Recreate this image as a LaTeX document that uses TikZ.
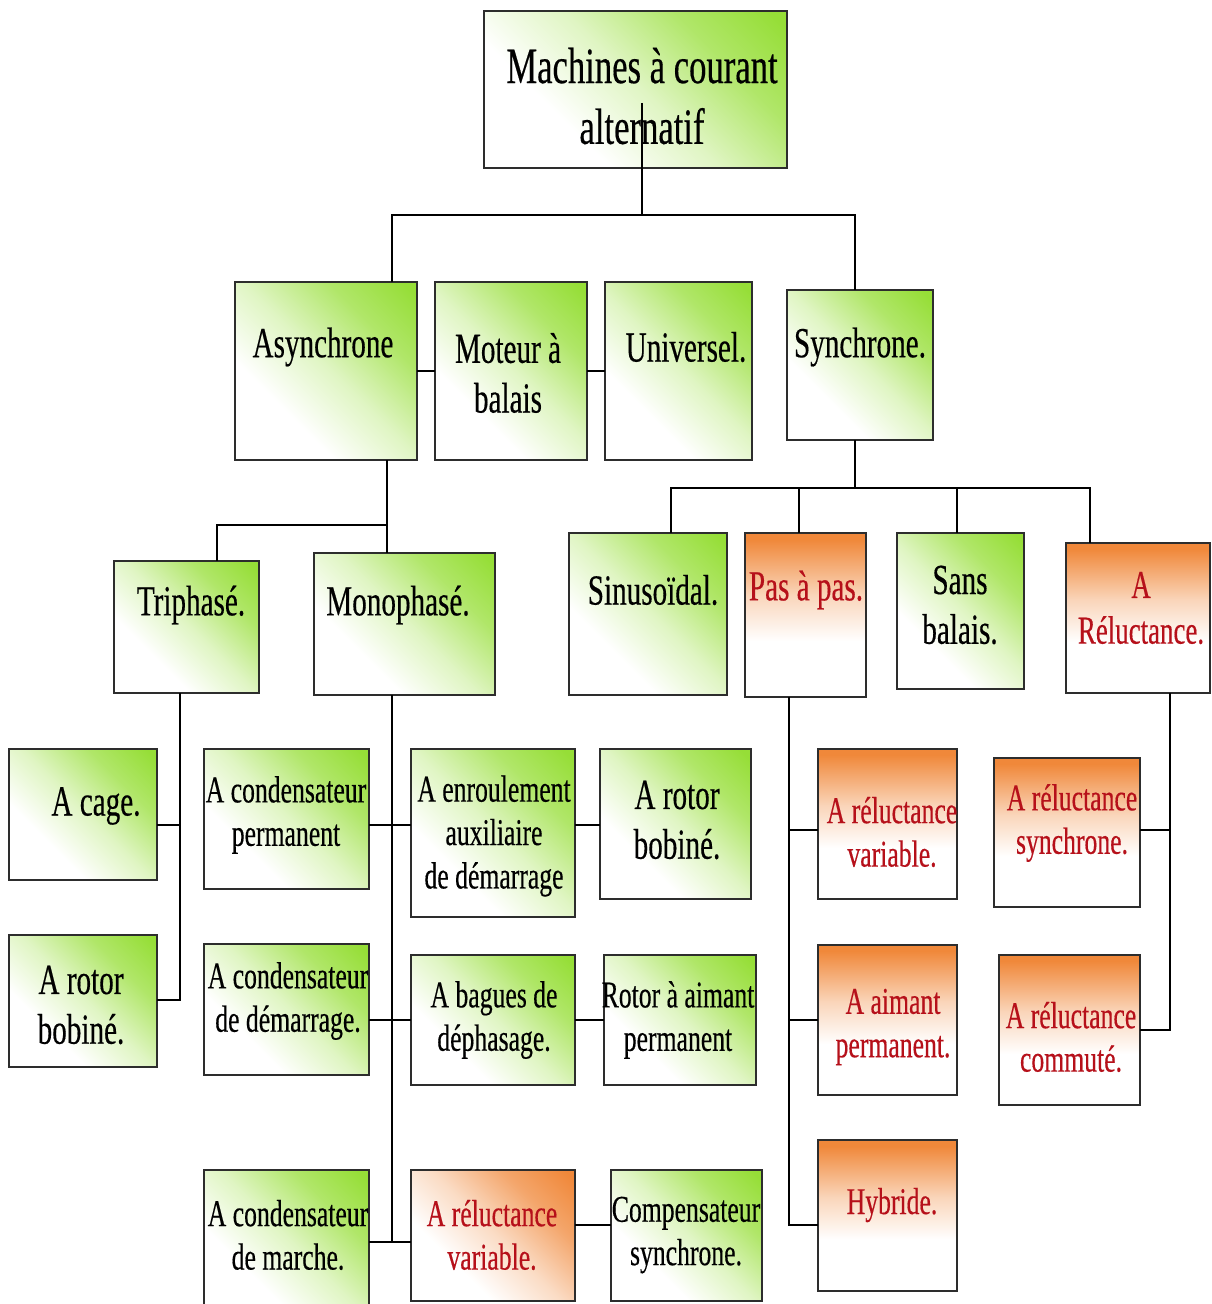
\documentclass[tikz,border=0pt]{standalone}
\usepackage{fontspec}
\setmainfont{Liberation Serif}[FakeStretch=0.68, FakeBold=0.35]
\usetikzlibrary{calc}

\definecolor{leaf}{RGB}{150,222,55}
\definecolor{ember}{RGB}{240,136,58}
\definecolor{redtxt}{RGB}{182,16,26}
\definecolor{edge}{RGB}{45,45,45}

% fills: green fades diagonally to white, orange fades downwards to white
\pgfdeclareverticalshading{leafdiag}{100bp}{color(0bp)=(white); color(34bp)=(white); color(51bp)=(leaf!30!white); color(68bp)=(leaf!75!white); color(83bp)=(leaf); color(100bp)=(leaf)}
\pgfdeclareverticalshading{emberdiag}{100bp}{color(0bp)=(white); color(34bp)=(white); color(51bp)=(ember!30!white); color(68bp)=(ember!75!white); color(83bp)=(ember); color(100bp)=(ember)}
\pgfdeclareverticalshading{emberfade}{100bp}{color(0bp)=(white); color(42bp)=(white); color(56bp)=(ember!35!white); color(73bp)=(ember); color(100bp)=(ember)}

\newcommand\mkbox[6]{\node[#1, minimum width={(#5-#3)*0.02cm}, minimum height={(#6-#4)*0.02cm}] (#2) at ({(#3+#5)/2},{(#4+#6)/2}) {};}

\tikzset{
  boxbase/.style={rectangle, draw=edge, line width=1pt, inner sep=0pt, outer sep=0pt},
  greenbox/.style={boxbase, shade, shading=leafdiag, shading angle=-45},
  orangebox/.style={boxbase, shade, shading=emberfade},
  orangediag/.style={boxbase, shade, shading=emberdiag, shading angle=-45},
  link/.style={draw=black, line width=0.8pt},
  lbl/.style={align=center, inner sep=0pt, text=black},
  troot/.style={lbl, font=\fontsize{29}{34.6}\selectfont},
  tbig/.style={lbl, font=\fontsize{24.4}{28.3}\selectfont},
  tmid/.style={lbl, font=\fontsize{22.5}{26}\selectfont},
  tsmall/.style={lbl, font=\fontsize{21.5}{24.7}\selectfont},
  red/.style={text=redtxt},
}

\begin{document}
\begin{tikzpicture}[x=0.02cm, y=-0.02cm]
\useasboundingbox (0,0) rectangle (1211,1304);

% ---------- boxes ----------
\mkbox{greenbox}{root}{484}{11}{787}{168}
\mkbox{greenbox}{async}{235}{282}{417}{460}
\mkbox{greenbox}{moteur}{435}{282}{587}{460}
\mkbox{greenbox}{univ}{605}{282}{752}{460}
\mkbox{greenbox}{sync}{787}{290}{933}{440}
\mkbox{greenbox}{tri}{114}{561}{259}{693}
\mkbox{greenbox}{mono}{314}{553}{495}{695}
\mkbox{greenbox}{sin}{569}{533}{727}{695}
\mkbox{orangebox}{pas}{745}{533}{866}{697}
\mkbox{greenbox}{sans}{897}{533}{1024}{689}
\mkbox{orangebox}{relR}{1066}{543}{1210}{693}
\mkbox{greenbox}{cage}{9}{749}{157}{880}
\mkbox{greenbox}{rotorA}{9}{935}{157}{1067}
\mkbox{greenbox}{condP}{204}{749}{369}{889}
\mkbox{greenbox}{condD}{204}{944}{369}{1075}
\mkbox{greenbox}{condM}{204}{1170}{369}{1312}
\mkbox{greenbox}{enroul}{411}{749}{575}{917}
\mkbox{greenbox}{rotorB}{600}{749}{751}{899}
\mkbox{greenbox}{bagues}{411}{955}{575}{1085}
\mkbox{greenbox}{aimant}{604}{955}{756}{1085}
\mkbox{orangediag}{relB}{411}{1170}{575}{1301}
\mkbox{greenbox}{comp}{611}{1170}{762}{1301}
\mkbox{orangebox}{relV}{818}{749}{957}{899}
\mkbox{orangebox}{aimP}{818}{945}{957}{1095}
\mkbox{orangebox}{hyb}{818}{1140}{957}{1291}
\mkbox{orangebox}{relS}{994}{758}{1140}{907}
\mkbox{orangebox}{relC}{999}{955}{1140}{1105}

% ---------- junction points ----------
\coordinate (rootstem) at (642,103);
\coordinate (barL) at (392,215);
\coordinate (barR) at (855,215);
\coordinate (aj) at (387,525);
\coordinate (ajL) at (217,525);
\coordinate (tx) at (180,1000);
\coordinate (tc) at (180,825);
\coordinate (m1) at (392,825);
\coordinate (m2) at (392,1020);
\coordinate (m3) at (392,1242);
\coordinate (m4) at (593,1225);
\coordinate (sMid) at (855,488);
\coordinate (sL) at (671,488);
\coordinate (sR) at (1090,488);
\coordinate (p1) at (799,488);
\coordinate (p2) at (957,488);
\coordinate (q1) at (789,830);
\coordinate (q2) at (789,1020);
\coordinate (q3) at (789,1225);
\coordinate (r1) at (1170,830);
\coordinate (r2) at (1170,1030);

% ---------- connectors ----------
\draw[link] (rootstem) -- (rootstem |- barL);
\draw[link] (async.north -| barL) -- (barL) -- (barR) -- (barR |- sync.north);
\draw[link] (async.east |- moteur.west) -- (moteur.west);
\draw[link] (moteur.east) -- (univ.west);

\draw[link] (async.south -| aj) -- (mono.north -| aj);
\draw[link] (aj) -- (ajL) -- (ajL |- tri.north);

\draw[link] (tri.south -| tx) -- (tx) -- (rotorA.east |- tx);
\draw[link] (cage.east |- tc) -- (tc);

\draw[link] (mono.south -| m1) -- (m3);
\draw[link] (condP.east |- m1) -- (enroul.west |- m1);
\draw[link] (condD.east |- m2) -- (bagues.west |- m2);
\draw[link] (condM.east |- m3) -- (relB.west |- m3);
\draw[link] (enroul.east |- m1) -- (rotorB.west |- m1);
\draw[link] (bagues.east |- m2) -- (aimant.west |- m2);
\draw[link] (relB.east |- m4) -- (comp.west |- m4);

\draw[link] (sync.south -| sMid) -- (sMid);
\draw[link] (sin.north -| sL) -- (sL) -- (sR) -- (sR |- relR.north);
\draw[link] (p1) -- (p1 |- pas.north);
\draw[link] (p2) -- (p2 |- sans.north);

\draw[link] (pas.south -| q1) -- (q3) -- (hyb.west |- q3);
\draw[link] (q1) -- (relV.west |- q1);
\draw[link] (q2) -- (aimP.west |- q2);

\draw[link] (relR.south -| r1) -- (r2) -- (relC.east |- r2);
\draw[link] (r1) -- (relS.east |- r1);

% ---------- labels ----------
\node[troot] (root-t) at (642,96) {Machines à courant\\alternatif};
\node[tbig] (async-t) at (323,347) {Asynchrone};
\node[tbig] (moteur-t) at (508,373) {Moteur à\\balais};
\node[tbig] (univ-t) at (686,347) {Universel.};
\node[tbig] (sync-t) at (860,347) {Synchrone.};
\node[tbig] (tri-t) at (191,605) {Triphasé.};
\node[tbig] (mono-t) at (398,605) {Monophasé.};
\node[tbig] (sin-t) at (653,590) {Sinusoïdal.};
\node[tbig, red] (pas-t) at (806,590) {Pas à pas.};
\node[tbig] (sans-t) at (960,605) {Sans\\balais.};
\node[tmid, red] (relR-t) at (1141,608) {A\\Réluctance.};
\node[tbig] (cage-t) at (96,806) {A cage.};
\node[tbig] (rotorA-t) at (81,1005) {A rotor\\bobiné.};
\node[tsmall] (condP-t) at (286,815) {A condensateur\\permanent};
\node[tsmall] (condD-t) at (288,1001) {A condensateur\\de démarrage.};
\node[tsmall] (condM-t) at (288,1235) {A condensateur\\de marche.};
\node[tsmall] (enroul-t) at (494,836) {A enroulement\\auxiliaire\\de démarrage};
\node[tbig] (rotorB-t) at (677,820) {A rotor\\bobiné.};
\node[tsmall] (bagues-t) at (494,1020) {A bagues de\\déphasage.};
\node[tsmall] (aimant-t) at (678,1020) {Rotor à aimant\\permanent};
\node[tsmall, red] (relB-t) at (492,1235) {A réluctance\\variable.};
\node[tsmall] (comp-t) at (686,1235) {Compensateur\\synchrone.};
\node[tsmall, red] (relV-t) at (892,832) {A réluctance\\variable.};
\node[tsmall, red] (aimP-t) at (893,1027) {A aimant\\permanent.};
\node[tsmall, red] (hyb-t) at (892,1205) {Hybride.};
\node[tsmall, red] (relS-t) at (1072,823) {A réluctance\\synchrone.};
\node[tsmall, red] (relC-t) at (1071,1037) {A réluctance\\commuté.};
\end{tikzpicture}
\end{document}
